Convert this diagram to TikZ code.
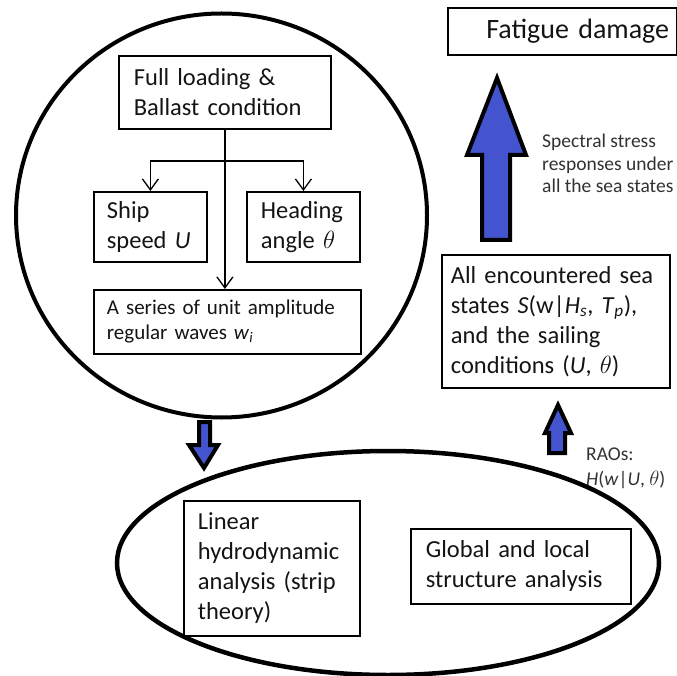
\documentclass[tikz,border=0pt]{standalone}
\usepackage{fontspec}
\setmainfont{Carlito}
\usepackage{tikz}
\usetikzlibrary{arrows.meta}
\definecolor{arrowblue}{RGB}{68,84,206}
\definecolor{boxtext}{RGB}{20,20,20}
\definecolor{sidetext}{RGB}{50,50,50}

\begin{document}
\begin{tikzpicture}[x=1pt,y=-1pt,
box/.style={draw,line width=1.8pt,anchor=north west,align=left,inner ysep=0pt,text=boxtext,font=\fontsize{24.5}{30}\selectfont},
note/.style={anchor=north west,align=left,inner sep=0pt,text=sidetext},
conn/.style={line width=1.3pt,-{Straight Barb[length=11pt,width=16pt,line width=1.3pt]}},
blockarrow/.style={line width=4pt,fill=arrowblue,draw=black}]
\useasboundingbox (0,0) rectangle (677,676);
\draw[line width=4pt] (221.5,215.5) ellipse [x radius=205.5, y radius=202];
\draw[line width=4.5pt] (388,563) ellipse [x radius=271, y radius=112];
\node[box,inner xsep=15pt,text width=182pt,minimum width=212pt,minimum height=73pt] (full) at (118,55) {Full loading \&\\Ballast condition};
\node[box,inner xsep=13pt,text width=87pt,minimum width=113pt,minimum height=70pt] (ship) at (93,191) {Ship\\speed \textit{U}};
\node[box,inner xsep=14pt,text width=85pt,minimum width=113pt,minimum height=70pt] (heading) at (246,191) {Heading\\angle $\theta$};
\node[box,inner xsep=13pt,text width=241pt,minimum width=267pt,minimum height=64pt,font=\fontsize{21}{25}\selectfont] (series) at (93,289) {A series of unit amplitude\\regular waves \textit{w}\textsubscript{\textit{i}}};
\node[box,line width=2.2pt,inner xsep=8pt,text width=213pt,minimum width=229pt,minimum height=47pt,align=right,font=\fontsize{28}{32}\selectfont] (fatigue) at (447,7) {Fatigue damage};
\node[box,inner xsep=9pt,text width=210pt,minimum width=228pt,minimum height=133pt] (allenc) at (441,254) {All encountered sea\\states \textit{S}(w|\textit{H}\textsubscript{\textit{s}}, \textit{T}\textsubscript{\textit{p}}),\\and the sailing\\conditions (\textit{U}, $\theta$)};
\node[box,inner xsep=14pt,text width=148pt,minimum width=176pt,minimum height=135pt] (linear) at (183,500) {Linear\\hydrodynamic\\analysis (strip\\theory)};
\node[box,inner xsep=15pt,text width=190pt,minimum width=220pt,minimum height=75pt] (global) at (410,528) {Global and local\\structure analysis};
\node[note,font=\fontsize{19.5}{22.5}\selectfont] (spectral) at (542,134) {Spectral stress\\responses under\\all the sea states};
\node[note,font=\fontsize{19.5}{25}\selectfont] (raos) at (586,448) {RAOs:\\\textit{H}(\textit{w}|\textit{U}, $\theta$)};
\coordinate (split) at (full.south |- 0,161);
\draw[conn] (full.south) -- (full.south |- series.north);
\draw[conn] (split) -| (ship.north);
\draw[conn] (split) -| (heading.north);
\draw[blockarrow] (482,240) -- (482,155) -- (467,155) -- (497,78) -- (526,155) -- (510,155) -- (510,240) -- cycle;
\draw[blockarrow] (549,453) -- (549,433) -- (545,433) -- (558,405) -- (571,433) -- (565,433) -- (565,453) -- cycle;
\draw[blockarrow] (199,422) -- (199,445) -- (189,445) -- (204,468) -- (218,445) -- (210,445) -- (210,422) -- cycle;
\end{tikzpicture}
\end{document}
